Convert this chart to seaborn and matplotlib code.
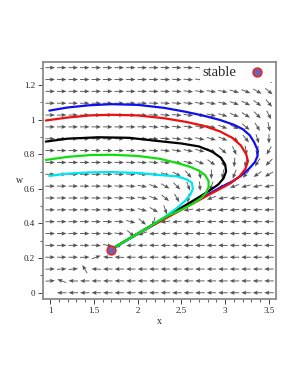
import numpy as np
import pandas as pd
import matplotlib
matplotlib.use("Agg")
import matplotlib.pyplot as plt
import seaborn as sns
from matplotlib.ticker import MultipleLocator

# ---------------- data ----------------
# direction field: grid 20 x 20 over x = 1..3.5, w = 0..1.3
# arrow angle in degrees (screen), rows listed from top (w=1.3) to bottom (w=0)
field_angles_top_down = [
    [0, 0, 0, 0, 0, 0, 0, 0, 0, 0, -2, -2, -3, -4, -6, -8, -10, -14, -20, -55],
    [0, 0, 0, 0, 0, 0, 0, 0, 0, -1, -2, -3, -4, -5, -7, -9, -12, -17, -24, -50],
    [0, 0, 0, 0, 0, 0, 0, 0, -1, -2, -3, -4, -6, -7, -9, -12, -16, -21, -29, -40],
    [0, 0, 0, 0, 0, 0, 0, 0, -1, -2, -4, -5, -7, -9, -11, -14, -19, -26, -36, -50],
    [0, 0, 0, 0, 0, 0, 0, -1, -2, -3, -5, -6, -8, -10, -13, -17, -23, -32, -45, -62],
    [0, 0, 0, 0, 0, 0, 0, -1, -2, -4, -6, -7, -9, -12, -16, -21, -29, -40, -58, -78],
    [0, 0, 0, 0, 0, 0, -1, -2, -3, -4, -6, -8, -10, -13, -17, -23, -33, -50, -72, -90],
    [0, 0, 0, 0, 0, 0, -1, -2, -3, -5, -7, -9, -12, -16, -25, -40, -65, -82, -100, -120],
    [0, 0, 0, 0, 0, -1, -2, -3, -4, -6, -8, -11, -15, -22, -35, -70, -95, -105, -122, -135],
    [0, 0, 0, 0, 0, -1, -2, -3, -5, -8, -20, -30, -50, -80, -90, -100, -112, -130, -145, -150],
    [0, 0, 0, 0, -1, -2, -3, -4, -10, -20, -30, -45, -70, -85, -110, -150, -160, -165, -168, -170],
    [0, 0, 0, 0, -1, -2, -3, -5, -10, -20, -40, -60, -100, -150, -160, -170, -172, -174, -175, -176],
    [0, 0, 0, 0, -1, -2, -4, -7, -15, -30, -70, -150, -170, -172, -173, -174, -175, -176, -177, -178],
    [0, 0, 0, -1, -1, -3, -5, -15, -40, -105, -172, -174, -175, -176, -177, -178, -178, -179, -179, 180],
    [0, 0, 0, -1, -2, -4, -6, -40, -160, -176, -177, -178, -179, 180, 180, 180, 180, 180, 180, 180],
    [0, 0, 0, -1, -3, -10, -150, -176, -178, 180, 180, 180, 180, 180, 180, 180, 180, 180, 180, 180],
    [0, 0, 0, 2, 20, 175, 178, 180, 180, 180, 180, 180, 180, 180, 180, 180, 180, 180, 180, 180],
    [2, 3, 5, 120, 178, 180, 180, 180, 180, 180, 180, 180, 180, 180, 180, 180, 180, 180, 180, 180],
    [3, 160, 178, 180, 180, 180, 180, 180, 180, 180, 180, 180, 180, 180, 180, 180, 180, 180, 180, 180],
    [np.nan, 180, 180, 180, 180, 180, 180, 180, 180, 180, 180, 180, 180, 180, 180, 180, 180, 180, 180, 180],
]

# solution curves (x, w)
blue_x = [0.99, 1.2, 1.45, 1.7, 2.0, 2.3, 2.55, 2.75, 2.94, 3.1, 3.2, 3.28, 3.33, 3.37, 3.37,
          3.34, 3.27, 3.18, 3.07, 2.95, 2.8, 2.6, 2.4, 2.2, 1.95, 1.69]
blue_w = [1.052, 1.07, 1.083, 1.089, 1.085, 1.068, 1.045, 1.023, 0.998, 0.97, 0.945, 0.91, 0.87, 0.825, 0.79,
          0.755, 0.715, 0.675, 0.64, 0.61, 0.567, 0.515, 0.46, 0.4, 0.326, 0.249]

red_x = [0.95, 1.2, 1.45, 1.7, 2.0, 2.3, 2.55, 2.75, 2.94, 3.08, 3.18, 3.24, 3.26, 3.23, 3.16,
         3.06, 2.95, 2.8, 2.6, 2.4, 2.2, 1.95, 1.69]
red_w = [0.995, 1.012, 1.024, 1.028, 1.024, 1.008, 0.987, 0.965, 0.932, 0.895, 0.85, 0.8, 0.76, 0.715, 0.67,
         0.632, 0.602, 0.562, 0.507, 0.452, 0.396, 0.324, 0.249]

black_x = [0.95, 1.2, 1.55, 1.9, 2.2, 2.5, 2.7, 2.85, 2.95, 3.0, 3.01, 2.98, 2.92, 2.82, 2.7,
           2.55, 2.4, 2.2, 1.95, 1.69]
black_w = [0.873, 0.89, 0.898, 0.895, 0.878, 0.862, 0.845, 0.815, 0.78, 0.74, 0.7, 0.66, 0.625, 0.59, 0.552,
           0.507, 0.462, 0.402, 0.327, 0.249]

cyan_x = [0.99, 1.2, 1.45, 1.7, 2.0, 2.25, 2.45, 2.56, 2.62, 2.63, 2.6, 2.54, 2.45, 2.3, 2.1, 1.9, 1.69]
cyan_w = [0.675, 0.688, 0.695, 0.697, 0.692, 0.68, 0.672, 0.655, 0.635, 0.6, 0.565, 0.53, 0.49, 0.435, 0.37,
          0.31, 0.249]

green_x = [0.95, 1.2, 1.45, 1.7, 2.0, 2.25, 2.46, 2.6, 2.7, 2.77, 2.81, 2.81, 2.78, 2.72, 2.62,
           2.5, 2.35, 2.2, 1.95, 1.69]
green_w = [0.767, 0.785, 0.795, 0.797, 0.79, 0.774, 0.748, 0.727, 0.705, 0.68, 0.645, 0.61, 0.575, 0.545,
           0.512, 0.48, 0.446, 0.402, 0.327, 0.249]

stable_x = [1.69]
stable_w = [0.249]

# ---------------- style ----------------
sns.set_theme(style="ticks")
plt.rcParams['font.family'] = ['Liberation Serif', 'DejaVu Serif']
plt.rcParams['xtick.direction'] = 'out'
plt.rcParams['ytick.direction'] = 'out'

fig = plt.figure(figsize=(2.98, 3.85), dpi=100)
ax = fig.add_axes([0.143, 0.2234, 0.783, 0.6166])

# direction field arrows
grid_x = np.linspace(1.0, 3.5, 20)
grid_w = np.linspace(0.0, 1.3, 20)
gx, gw = np.meshgrid(grid_x, grid_w)
ang = np.array(field_angles_top_down, dtype=float)[::-1]
keep = ~np.isnan(ang)
ax.quiver(gx[keep], gw[keep], np.ones(keep.sum()), np.zeros(keep.sum()),
          angles=ang[keep], pivot='middle', units='inches', width=0.009,
          scale_units='inches', scale=10.5, headwidth=4.5, headlength=5.5,
          headaxislength=5, color='#555555', zorder=2)

curves = [
    (blue_x, blue_w, '#1010ee'),
    (red_x, red_w, '#ee1010'),
    (black_x, black_w, '#000000'),
    (cyan_x, cyan_w, '#00e5ee'),
    (green_x, green_w, '#10dd10'),
]
for cx, cw, col in curves:
    df = pd.DataFrame({'x': cx, 'w': cw})
    sns.lineplot(data=df, x='x', y='w', sort=False, estimator=None, color=col,
                 linewidth=1.6, ax=ax, zorder=3)

sns.scatterplot(x=stable_x, y=stable_w, s=40, color='#6f63b0', edgecolor='#ee2020',
                linewidth=1.1, ax=ax, zorder=5, label='stable')

leg = ax.legend(loc='upper right', bbox_to_anchor=(1.0, 1.0), markerfirst=False,
                frameon=True, framealpha=1, facecolor='white', edgecolor='none',
                fontsize=10.5, handletextpad=0.4, borderpad=0.2, borderaxespad=0.1,
                fancybox=False)
leg.set_zorder(6)

ax.set_xlim(0.913, 3.58)
ax.set_ylim(-0.036, 1.335)
ax.xaxis.set_major_locator(MultipleLocator(0.5))
ax.xaxis.set_minor_locator(MultipleLocator(0.1))
ax.yaxis.set_major_locator(MultipleLocator(0.2))
ax.yaxis.set_minor_locator(MultipleLocator(0.1))
ax.xaxis.set_major_formatter(plt.FuncFormatter(lambda v, p: f"{v:g}"))
ax.yaxis.set_major_formatter(plt.FuncFormatter(lambda v, p: f"{v:g}"))
ax.tick_params(which='major', length=3.5, width=0.7, labelsize=6.5, color='#444444', pad=2)
ax.tick_params(which='minor', length=2, width=0.6, color='#444444')
ax.tick_params(top=False, right=False)
for s in ax.spines.values():
    s.set_color('#8a8a8a')
    s.set_linewidth(1.3)

ax.set_xlabel('x', fontsize=7, labelpad=2)
ax.set_ylabel('w', fontsize=7, rotation=0, labelpad=3, va='center')

fig.savefig('out.png', dpi=100)
